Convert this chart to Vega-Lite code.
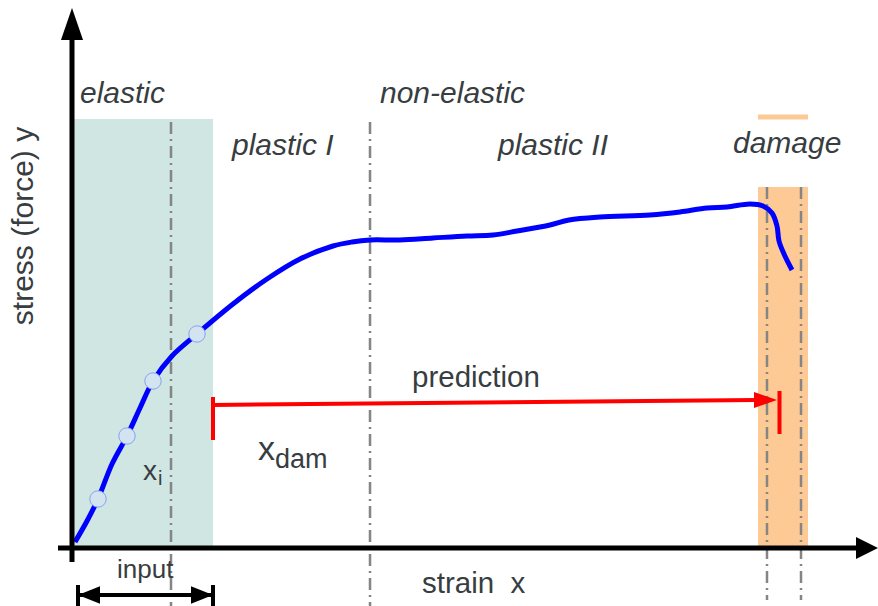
{
  "$schema": "https://vega.github.io/schema/vega-lite/v6.json",
  "width": 878,
  "height": 606,
  "autosize": {"type": "none"},
  "padding": 0,
  "background": "white",
  "config": {"view": {"stroke": null}},
  "encoding": {
    "x": {"field": "strain", "type": "quantitative", "scale": {"domain": [-72, 806], "nice": false, "zero": false}, "axis": null},
    "y": {"field": "stress", "type": "quantitative", "scale": {"domain": [-58, 548], "nice": false, "zero": false}, "axis": null}
  },
  "layer": [
    {
      "data": {"values": [{"strain": 0, "strain2": 141, "stress": 0, "stress2": 429}]},
      "mark": {"type": "rect", "color": "#cfe6e3"},
      "encoding": {"x2": {"field": "strain2"}, "y2": {"field": "stress2"}}
    },
    {
      "data": {"values": [{"strain": 686, "strain2": 736, "stress": 0, "stress2": 361}]},
      "mark": {"type": "rect", "color": "#fdca96"},
      "encoding": {"x2": {"field": "strain2"}, "y2": {"field": "stress2"}}
    },
    {
      "data": {"values": [{"strain": 686, "strain2": 736, "stress": 431}]},
      "mark": {"type": "rule", "color": "#fdca96", "strokeWidth": 5},
      "encoding": {"x2": {"field": "strain2"}}
    },
    {
      "data": {"values": [
        {"strain": 99, "stress": 426, "stress2": -58},
        {"strain": 298, "stress": 426, "stress2": -58},
        {"strain": 695, "stress": 361, "stress2": -52},
        {"strain": 729, "stress": 361, "stress2": -52}
      ]},
      "mark": {"type": "rule", "color": "#858585", "strokeWidth": 2.5, "strokeDash": [12, 5, 2, 5]},
      "encoding": {"y2": {"field": "stress2"}}
    },
    {
      "data": {"values": [
        {"strain": 3, "stress": 6}, {"strain": 15, "stress": 27}, {"strain": 26, "stress": 49},
        {"strain": 40, "stress": 84}, {"strain": 55, "stress": 112}, {"strain": 68, "stress": 140},
        {"strain": 81, "stress": 167}, {"strain": 100, "stress": 192}, {"strain": 125, "stress": 214},
        {"strain": 161, "stress": 244}, {"strain": 195, "stress": 269},
        {"strain": 228, "stress": 289}, {"strain": 261, "stress": 302}, {"strain": 280, "stress": 306},
        {"strain": 298, "stress": 308}, {"strain": 328, "stress": 308}, {"strain": 361, "stress": 310},
        {"strain": 395, "stress": 312}, {"strain": 421, "stress": 313}, {"strain": 445, "stress": 317},
        {"strain": 478, "stress": 323}, {"strain": 497, "stress": 328}, {"strain": 528, "stress": 331},
        {"strain": 578, "stress": 333}, {"strain": 608, "stress": 336}, {"strain": 635, "stress": 340},
        {"strain": 655, "stress": 341}, {"strain": 678, "stress": 344}, {"strain": 691, "stress": 342},
        {"strain": 700, "stress": 335}, {"strain": 705, "stress": 322}, {"strain": 707, "stress": 307},
        {"strain": 712, "stress": 294}, {"strain": 720, "stress": 278}
      ]},
      "mark": {"type": "line", "color": "#0000ff", "strokeWidth": 5, "interpolate": "catmull-rom", "strokeCap": "butt"}
    },
    {
      "data": {"values": [
        {"strain": 26, "stress": 49}, {"strain": 55, "stress": 112},
        {"strain": 81, "stress": 167}, {"strain": 125, "stress": 214}
      ]},
      "mark": {"type": "point", "shape": "circle", "filled": true, "size": 270, "fill": "#d3e4f0", "stroke": "#86a3f2", "strokeWidth": 1, "opacity": 1}
    },
    {
      "data": {"values": [{"strain": 141, "strain2": 684, "stress": 143, "stress2": 148}]},
      "mark": {"type": "rule", "color": "#ff0000", "strokeWidth": 4},
      "encoding": {"x2": {"field": "strain2"}, "y2": {"field": "stress2"}}
    },
    {
      "data": {"values": [{"strain": 141, "stress": 151, "stress2": 108}, {"strain": 707.5, "stress": 157, "stress2": 114}]},
      "mark": {"type": "rule", "color": "#ff0000", "strokeWidth": 4},
      "encoding": {"y2": {"field": "stress2"}}
    },
    {
      "data": {"values": [{"strain": 693.5, "stress": 148}]},
      "mark": {"type": "point", "shape": "M1,0L-1,-0.7L-1,0.7Z", "size": 529, "filled": true, "color": "#ff0000", "opacity": 1, "strokeWidth": 0}
    },
    {
      "data": {"values": [{"strain": 0, "stress": -14, "stress2": 508}]},
      "mark": {"type": "rule", "color": "#000000", "strokeWidth": 5},
      "encoding": {"y2": {"field": "stress2"}}
    },
    {
      "data": {"values": [{"strain": -14, "strain2": 786, "stress": 0}]},
      "mark": {"type": "rule", "color": "#000000", "strokeWidth": 5},
      "encoding": {"x2": {"field": "strain2"}}
    },
    {
      "data": {"values": [{"strain": 0, "stress": 524}]},
      "mark": {"type": "point", "shape": "M0,-1L0.69,1L-0.69,1Z", "size": 1024, "filled": true, "color": "#000000", "opacity": 1, "strokeWidth": 0}
    },
    {
      "data": {"values": [{"strain": 795, "stress": 0}]},
      "mark": {"type": "point", "shape": "M1,0L-1,-1L-1,1Z", "size": 484, "filled": true, "color": "#000000", "opacity": 1, "strokeWidth": 0}
    },
    {
      "data": {"values": [{"strain": 6, "strain2": 141, "stress": -47}]},
      "mark": {"type": "rule", "color": "#000000", "strokeWidth": 4},
      "encoding": {"x2": {"field": "strain2"}}
    },
    {
      "data": {"values": [{"strain": 6, "stress": -37, "stress2": -62}, {"strain": 141, "stress": -37, "stress2": -62}]},
      "mark": {"type": "rule", "color": "#000000", "strokeWidth": 4},
      "encoding": {"y2": {"field": "stress2"}}
    },
    {
      "data": {"values": [{"strain": 17, "stress": -47}]},
      "mark": {"type": "point", "shape": "M-1,0L1,-0.8L1,0.8Z", "size": 484, "filled": true, "color": "#000000", "opacity": 1, "strokeWidth": 0}
    },
    {
      "data": {"values": [{"strain": 130, "stress": -47}]},
      "mark": {"type": "point", "shape": "M1,0L-1,-0.8L-1,0.8Z", "size": 484, "filled": true, "color": "#000000", "opacity": 1, "strokeWidth": 0}
    },
    {
      "data": {"values": [
        {"label": "elastic", "strain": 8, "stress": 445},
        {"label": "non-elastic", "strain": 308, "stress": 445},
        {"label": "plastic I", "strain": 160, "stress": 393},
        {"label": "plastic II", "strain": 426, "stress": 393},
        {"label": "damage", "strain": 661, "stress": 395}
      ]},
      "mark": {"type": "text", "font": "Liberation Sans", "fontStyle": "italic", "fontSize": 30, "color": "#383d3f", "align": "left", "baseline": "alphabetic"},
      "encoding": {"text": {"field": "label"}}
    },
    {
      "data": {"values": [
        {"label": "prediction", "strain": 340, "stress": 161},
        {"label": "strain\u00a0 x", "strain": 350, "stress": -45}
      ]},
      "mark": {"type": "text", "font": "Liberation Sans", "fontSize": 29.5, "color": "#383d3f", "align": "left", "baseline": "alphabetic"},
      "encoding": {"text": {"field": "label"}}
    },
    {
      "data": {"values": [{"label": "input", "strain": 45, "stress": -30}]},
      "mark": {"type": "text", "font": "Liberation Sans", "fontSize": 26, "color": "#383d3f", "align": "left", "baseline": "alphabetic"},
      "encoding": {"text": {"field": "label"}}
    },
    {
      "data": {"values": [{"label": "x", "strain": 186, "stress": 88}]},
      "mark": {"type": "text", "font": "Liberation Sans", "fontSize": 34, "color": "#383d3f", "align": "left", "baseline": "alphabetic"},
      "encoding": {"text": {"field": "label"}}
    },
    {
      "data": {"values": [{"label": "dam", "strain": 203, "stress": 80}]},
      "mark": {"type": "text", "font": "Liberation Sans", "fontSize": 27, "color": "#383d3f", "align": "left", "baseline": "alphabetic"},
      "encoding": {"text": {"field": "label"}}
    },
    {
      "data": {"values": [{"label": "x", "strain": 71, "stress": 68}]},
      "mark": {"type": "text", "font": "Liberation Sans", "fontSize": 28, "color": "#383d3f", "align": "left", "baseline": "alphabetic"},
      "encoding": {"text": {"field": "label"}}
    },
    {
      "data": {"values": [{"label": "i", "strain": 86, "stress": 63}]},
      "mark": {"type": "text", "font": "Liberation Sans", "fontSize": 20, "color": "#383d3f", "align": "left", "baseline": "alphabetic"},
      "encoding": {"text": {"field": "label"}}
    },
    {
      "data": {"values": [{"label": "stress (force) y", "strain": -39, "stress": 322}]},
      "mark": {"type": "text", "font": "Liberation Sans", "fontSize": 30, "angle": 270, "color": "#383d3f", "align": "center", "baseline": "alphabetic"},
      "encoding": {"text": {"field": "label"}}
    }
  ]
}
